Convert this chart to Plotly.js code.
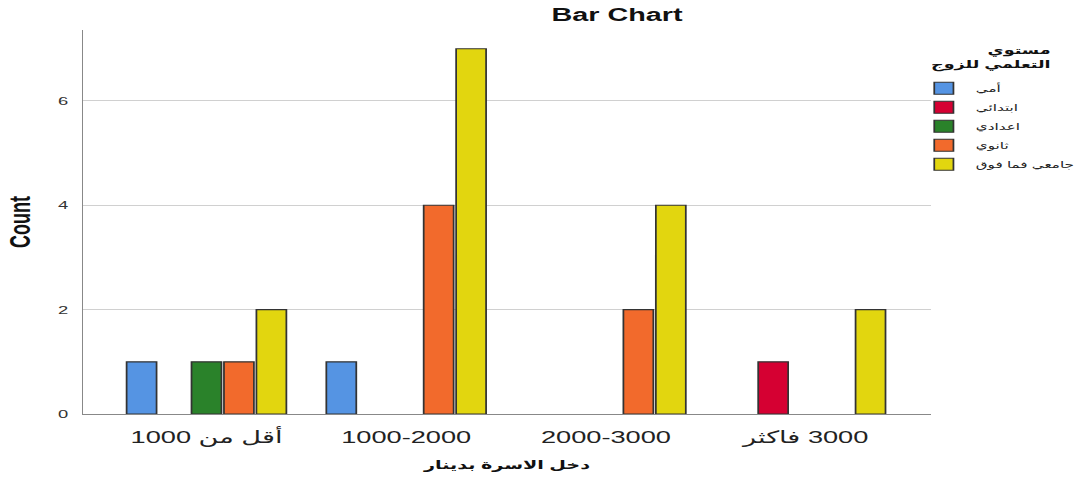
<!DOCTYPE html>
<html>
<head>
<meta charset="utf-8">
<script src="https://cdn.plot.ly/plotly-3.0.1.min.js"></script>
<style>
  html, body { margin: 0; padding: 0; overflow: hidden; background: #fff; }
  #chart { width: 674px; height: 477px; transform: scaleX(1.5994); transform-origin: 0 0; }
  /* category labels are laid out right-to-left, as in the reference */
  #chart .xtick text { direction: rtl; unicode-bidi: embed; }
</style>
</head>
<body>
<div id="chart"></div>
<script>
// Data
const categories = ["أقل من 1000", "1000-2000", "2000-3000", "3000 فاكثر"];
const seriesNames = ["أمي", "ابتدائي", "اعدادي", "ثانوي", "جامعي فما فوق"];
const seriesColors = ["#5594E3", "#D50032", "#2A822A", "#F26A2C", "#E2D60F"];
const countUmmi = [1, 1, 0, 0];
const countIbtidai = [0, 0, 0, 1];
const countIdadi = [1, 0, 0, 0];
const countThanawi = [1, 4, 2, 0];
const countJamii = [2, 7, 4, 2];
const yTickVals = [0, 2, 4, 6];

const seriesValues = [countUmmi, countIbtidai, countIdadi, countThanawi, countJamii];
const FONT = "Liberation Sans, Arial, DejaVu Sans, sans-serif";

// Empty (zero-count) bars are not drawn, as in the reference
const traces = seriesNames.map((name, i) => ({
  type: "bar",
  name: name,
  x: categories,
  y: seriesValues[i].map(v => (v === 0 ? null : v)),
  marker: { color: seriesColors[i], line: { color: "#333333", width: 1.1 } },
  hoverinfo: "x+y+name"
}));

const layout = {
  width: 674,
  height: 477,
  paper_bgcolor: "#ffffff",
  plot_bgcolor: "#ffffff",
  margin: { l: 52, r: 91.5, t: 30, b: 63, autoexpand: false },
  barmode: "group",
  bargap: 0.1875,
  bargroupgap: 0.077,
  font: { family: FONT, color: "#222" },
  title: {
    text: "<b>Bar Chart</b>",
    font: { family: FONT, size: 18, color: "#111" },
    x: 0.5724, xref: "container", xanchor: "center",
    y: 16, yref: "container", yanchor: "middle"
  },
  xaxis: {
    type: "category",
    range: [-0.6175, 3.627],
    showline: true, linecolor: "#888", linewidth: 1,
    showgrid: false, zeroline: false,
    ticks: "", ticklabelstandoff: 8,
    tickfont: { family: FONT, size: 17, color: "#222" },
    title: { text: "<b>دخل الاسرة بدينار</b>", font: { family: FONT, size: 12, color: "#111" }, standoff: 14 }
  },
  yaxis: {
    range: [0, 7.36],
    tickvals: yTickVals,
    showline: true, linecolor: "#888", linewidth: 1,
    showgrid: true, gridcolor: "#d0d0d0", gridwidth: 1,
    zeroline: false,
    ticks: "", ticklabelstandoff: 6,
    tickfont: { family: FONT, size: 11.5, color: "#333" },
    title: { text: "<b>Count</b>", font: { family: FONT, size: 18, color: "#111" }, standoff: 12 }
  },
  legend: {
    x: 0.9776, xanchor: "left",
    y: 0.886, yanchor: "top",
    font: { family: FONT, size: 9.5, color: "#222" },
    bgcolor: "rgba(0,0,0,0)",
    traceorder: "normal"
  },
  annotations: [{
    text: "<b>مستوي<br>التعلمي للزوج</b>",
    xref: "paper", yref: "paper",
    x: 1.146, xanchor: "right",
    y: 0.97, yanchor: "top",
    align: "right",
    showarrow: false,
    font: { family: FONT, size: 11, color: "#111" }
  }],
  showlegend: true
};

Plotly.newPlot("chart", traces, layout, { displayModeBar: false, staticPlot: true });
</script>
</body>
</html>
